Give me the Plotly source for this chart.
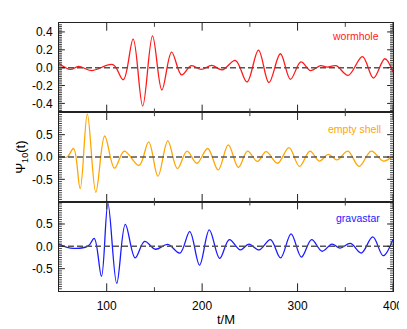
import numpy as np
import plotly.graph_objects as go
from plotly.subplots import make_subplots

# ---- data (extrema of each waveform) ----
t_wormhole = [50, 62, 70.5, 84, 106.5, 117.4, 127.7, 137.7, 148, 157.8, 168, 178.4, 188.6, 199,
              210, 221, 235, 247, 259, 270, 282, 292.5, 303.5, 313.7, 324, 331, 340.4, 353,
              368, 379.5, 391.5, 400]
psi_wormhole = [0.047, -0.02, 0.015, -0.033, 0.033, -0.135, 0.32, -0.43, 0.356, -0.25, 0.175, -0.08,
                0.022, -0.02, 0.025, -0.025, 0.08, -0.16, 0.196, -0.167, 0.156, -0.13, 0.065, -0.033,
                0.022, 0.005, 0.022, -0.087, 0.124, -0.116, 0.10, -0.05]

t_shell = [50, 58.5, 65.3, 72.2, 79.7, 88.6, 97.9, 108.2, 118.4, 133.9, 144, 153.7, 164, 174,
           184.2, 194.5, 205.8, 216.8, 227.4, 238, 247.5, 258, 267, 279, 291, 302, 313, 322.8,
           332.3, 341.3, 352.7, 364.5, 377.2, 390, 400]
psi_shell = [0.03, 0.0, 0.19, -0.71, 0.96, -0.79, 0.47, -0.25, 0.13, -0.19, 0.34, -0.43, 0.36, -0.26,
             0.13, -0.14, 0.19, -0.29, 0.27, -0.235, 0.13, -0.10, 0.12, -0.14, 0.21, -0.21, 0.13, -0.09,
             0.06, -0.066, 0.13, -0.21, 0.13, -0.09, 0.02]

t_gravastar = [50, 62, 80.7, 86.9, 94.5, 101.3, 110.5, 119.5, 129.8, 139.7, 151, 164, 176.7, 187,
               197.3, 207.5, 218.4, 228.5, 240, 249, 259.6, 271.6, 282.2, 293.2, 304, 314.7, 325.7,
               336, 344.5, 355.5, 366.8, 378.8, 389.8, 400]
psi_gravastar = [0.05, -0.04, 0.01, 0.18, -0.67, 0.96, -0.83, 0.49, -0.26, 0.11, -0.065, 0.043, -0.15,
                 0.33, -0.42, 0.37, -0.27, 0.15, -0.08, 0.05, -0.08, 0.15, -0.26, 0.28, -0.24, 0.15,
                 -0.11, 0.05, -0.04, 0.064, -0.15, 0.21, -0.21, 0.16]

series_names = ["wormhole", "empty shell", "gravastar"]
series_colors = ["#ff1a1a", "#ffa500", "#1a1aff"]

x_tickvals = [100, 200, 300, 400]
x_ticktext = ["100", "200", "300", "400"]
top_tickvals = [-0.4, -0.2, 0.0, 0.2, 0.4]
top_ticktext = ["-0.4", "-0.2", "0.0", "0.2", "0.4"]
mid_tickvals = [-0.5, 0.0, 0.5]
mid_ticktext = ["-0.5", "0.0", "0.5"]

# minor tick positions (axis decoration only)
x_minor = [150, 250, 350]
top_minor = [float(v) for v in np.round(np.arange(-0.48, 0.4801, 0.02), 3)]
mid_minor = [float(v) for v in np.round(np.arange(-0.95, 0.9501, 0.05), 3)]

FONT = "Liberation Sans, Arial, sans-serif"
AXC = "#222222"

W, H = 407, 329
L, R, T, B = 51, 15, 15, 35
pw, ph = W - L - R, H - T - B
panel_h = ph / 3.0

fig = make_subplots(rows=3, cols=1, shared_xaxes=True, vertical_spacing=0)

data = [(t_wormhole, psi_wormhole), (t_shell, psi_shell), (t_gravastar, psi_gravastar)]
for i, ((tx, ty), name, col) in enumerate(zip(data, series_names, series_colors)):
    fig.add_trace(go.Scatter(x=tx, y=ty, mode="lines", name=name,
                             line=dict(color=col, width=1.3, shape="spline", smoothing=1.0)),
                  row=i + 1, col=1)
    fig.add_hline(y=0, line=dict(color="#555555", width=1.5, dash="6px,3px"), row=i + 1, col=1)

axis_common = dict(showline=True, linecolor=AXC, linewidth=1, mirror=True,
                   showgrid=False, zeroline=False, ticks="", 
                   tickfont=dict(family=FONT, size=12, color="black"))

for r in range(1, 4):
    fig.update_xaxes(range=[50, 400], tickmode="array", tickvals=x_tickvals, ticktext=x_ticktext,
                     showticklabels=(r == 3), ticklabelstandoff=4, row=r, col=1, **axis_common)

fig.update_yaxes(range=[-0.5, 0.5], tickmode="array", tickvals=top_tickvals, ticktext=top_ticktext,
                 row=1, col=1, **axis_common)
for r in (2, 3):
    fig.update_yaxes(range=[-1, 1], tickmode="array", tickvals=mid_tickvals, ticktext=mid_ticktext,
                     row=r, col=1, **axis_common)
fig.update_yaxes(ticklabelstandoff=3)

fig.update_xaxes(title=dict(text="t/M", font=dict(family=FONT, size=13, color="black"), standoff=2),
                 row=3, col=1)

# tick marks drawn as inward shapes (top/bottom and left/right of every panel)
def add_tick_marks(row, yvals_major, yvals_minor):
    xr, yr = ("x" if row == 1 else f"x{row}"), ("y" if row == 1 else f"y{row}")
    line_major = dict(color=AXC, width=1)
    line_minor = dict(color="#444444", width=1)
    for vals, ln, lw in ((x_tickvals, 8, line_major), (x_minor, 4, line_minor)):
        for v in vals:
            f = ln / panel_h
            fig.add_shape(type="line", xref=xr, yref=f"{yr} domain", x0=v, x1=v, y0=0, y1=f, line=lw)
            fig.add_shape(type="line", xref=xr, yref=f"{yr} domain", x0=v, x1=v, y0=1, y1=1 - f, line=lw)
    for vals, ln, lw in ((yvals_major, 6, line_major), (yvals_minor, 3, line_minor)):
        for v in vals:
            f = ln / pw
            fig.add_shape(type="line", xref=f"{xr} domain", yref=yr, x0=0, x1=f, y0=v, y1=v, line=lw)
            fig.add_shape(type="line", xref=f"{xr} domain", yref=yr, x0=1, x1=1 - f, y0=v, y1=v, line=lw)

add_tick_marks(1, top_tickvals, top_minor)
add_tick_marks(2, mid_tickvals, mid_minor)
add_tick_marks(3, mid_tickvals, mid_minor)

# series labels
label_pos = [(354, 29), (353, 125), (356, 218)]
for (px, py), name, col in zip(label_pos, series_names, series_colors):
    fig.add_annotation(x=(px - L) / pw, y=1 - (py - T) / ph, xref="paper", yref="paper",
                       text=name, showarrow=False, xanchor="center", yanchor="middle",
                       font=dict(family=FONT, size=10.5, color=col))

fig.add_annotation(x=(12 - L) / pw, y=0.5, xref="paper", yref="paper",
                   text="Ψ<sub>10</sub>(t)", textangle=-90, showarrow=False,
                   xanchor="center", yanchor="middle",
                   font=dict(family=FONT, size=13, color="black"))

fig.update_layout(width=W, height=H, margin=dict(l=L, r=R, t=T, b=B),
                  paper_bgcolor="white", plot_bgcolor="white", showlegend=False)

fig.write_html("out.html")
